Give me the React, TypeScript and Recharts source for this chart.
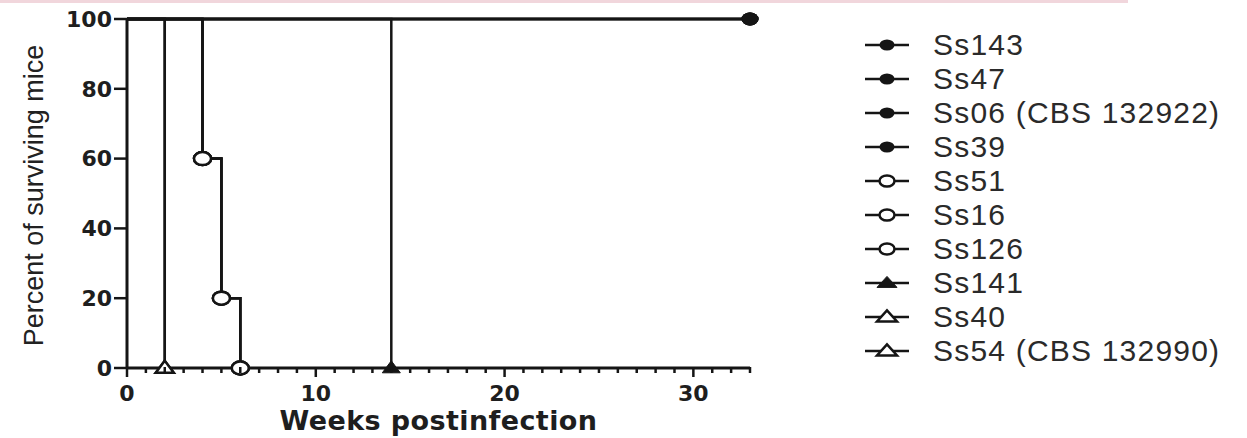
import React from "react";
import { LineChart, Line, XAxis, YAxis, Legend } from "recharts";

// ---- data ----
const seriesNames = [
  "Ss143",
  "Ss47",
  "Ss06 (CBS 132922)",
  "Ss39",
  "Ss51",
  "Ss16",
  "Ss126",
  "Ss141",
  "Ss40",
  "Ss54 (CBS 132990)",
];
const seriesMarkers = [
  "filledCircle",
  "filledCircle",
  "filledCircle",
  "filledCircle",
  "openCircle",
  "openCircle",
  "openCircle",
  "filledTriangle",
  "openTriangle",
  "openTriangle",
];
// survival curves (weeks postinfection -> percent surviving)
const survivorsWeeks = [0, 33];
const survivorsPct = [100, 100];
const stepwiseWeeks = [0, 4, 5, 6];
const stepwisePct = [100, 60, 20, 0];
const ss141Weeks = [0, 14];
const ss141Pct = [100, 0];
const earlyWeeks = [0, 2];
const earlyPct = [100, 0];
// which curve each series follows
const seriesCurve = [0, 0, 0, 0, 1, 1, 1, 2, 3, 3];
const curveWeeks = [survivorsWeeks, stepwiseWeeks, ss141Weeks, earlyWeeks];
const curvePct = [survivorsPct, stepwisePct, ss141Pct, earlyPct];

const xTicks = Array.from({ length: 34 }, (_, i) => i);
const xMajorTicks = [0, 10, 20, 30];
const yTicks = [0, 20, 40, 60, 80, 100];

const INK = "#151515";
const BOLD_FONT = "'DejaVu Sans', sans-serif";
const SANS = "'Liberation Sans', Arial, sans-serif";

function Marker({ kind, cx, cy, rx, ry, tw, th, sw }: any) {
  if (kind === "filledCircle")
    return <ellipse cx={cx} cy={cy} rx={rx} ry={ry} fill={INK} />;
  if (kind === "openCircle")
    return (
      <ellipse cx={cx} cy={cy} rx={rx} ry={ry} fill="#fff" stroke={INK} strokeWidth={sw} />
    );
  const pts = `${cx},${cy - th * 0.6} ${cx - tw / 2},${cy + th * 0.4} ${cx + tw / 2},${cy + th * 0.4}`;
  if (kind === "filledTriangle") return <polygon points={pts} fill={INK} stroke={INK} strokeWidth={1} />;
  return <polygon points={pts} fill="#fff" stroke={INK} strokeWidth={sw} strokeLinejoin="miter" />;
}

const makeDot = (kind: string) => (props: any) => {
  const { cx, cy, index } = props;
  const key = `dot-${kind}-${index}`;
  if (index === 0 || cx == null || cy == null) return <g key={key} />;
  return (
    <g key={key}>
      <Marker kind={kind} cx={cx} cy={cy} rx={8.5} ry={6.5} tw={18} th={12} sw={2.5} />
    </g>
  );
};

const XTick = (props: any) => {
  const { x, y, payload } = props;
  const major = xMajorTicks.includes(payload.value);
  return (
    <g>
      <line x1={x} y1={y - 1} x2={x} y2={y + (major ? 9 : 5)} stroke={INK} strokeWidth={2.5} />
      {major && (
        <text
          x={x}
          y={y + 33}
          textAnchor="middle"
          fontFamily={BOLD_FONT}
          fontWeight="bold"
          fontSize={22}
          fill="#1e1e1e"
        >
          {payload.value}
        </text>
      )}
    </g>
  );
};

const LegendContent = (props: any) => {
  const payload = [...(props.payload || [])].sort(
    (a: any, b: any) => seriesNames.indexOf(a.value) - seriesNames.indexOf(b.value)
  );
  return (
    <div>
      {payload.map((entry: any, i: number) => {
        const idx = seriesNames.indexOf(entry.value);
        const kind = seriesMarkers[idx >= 0 ? idx : i];
        return (
          <div
            key={`leg-${i}`}
            style={{ height: 34, display: "flex", alignItems: "center", whiteSpace: "nowrap" }}
          >
            <svg width={50} height={34} style={{ display: "block" }}>
              <line x1={3} y1={17} x2={47} y2={17} stroke={INK} strokeWidth={2.5} />
              <Marker kind={kind} cx={25} cy={17} rx={7.5} ry={5.5} tw={20} th={11} sw={2.5} />
            </svg>
            <span
              style={{
                marginLeft: 21,
                fontFamily: SANS,
                fontSize: 30,
                letterSpacing: 1.2,
                color: "#2a2a2a",
                lineHeight: "34px",
              }}
            >
              {entry.value}
            </span>
          </div>
        );
      })}
    </div>
  );
};

export default function App() {
  const series = seriesNames.map((name, i) => {
    const c = seriesCurve[i];
    const data = curveWeeks[c].map((w, j) => ({ week: w, pct: curvePct[c][j] }));
    return { name, kind: seriesMarkers[i], data };
  });

  return (
    <div
      style={{
        position: "absolute",
        left: 0,
        top: 0,
        width: 1247,
        height: 438,
        background: "#fff",
        overflow: "hidden",
      }}
    >
      <div
        style={{
          position: "absolute",
          left: 0,
          top: 0,
          width: 1128,
          height: 3,
          background: "#f1d6dc",
        }}
      />
      <LineChart
        width={1247}
        height={438}
        margin={{ top: 19, right: 497, bottom: 0, left: 0 }}
      >
        <XAxis
          dataKey="week"
          type="number"
          domain={[0, 33]}
          ticks={xTicks}
          interval={0}
          tickSize={0}
          tickMargin={0}
          tickLine={false}
          tick={<XTick />}
          height={70}
          axisLine={{ stroke: INK, strokeWidth: 3 }}
          allowDuplicatedCategory={false}
          label={{
            content: (p: any) => {
              const vb = p.viewBox || {};
              return (
                <text
                  x={vb.x + vb.width / 2}
                  y={vb.y + 62}
                  textAnchor="middle"
                  fontFamily={BOLD_FONT}
                  fontWeight="bold"
                  fontSize={27}
                  letterSpacing={0.4}
                  fill="#1e1e1e"
                >
                  Weeks postinfection
                </text>
              );
            },
          }}
        />
        <YAxis
          type="number"
          domain={[0, 100]}
          ticks={yTicks}
          interval={0}
          width={127}
          tickSize={13}
          tickMargin={2}
          tickLine={{ stroke: INK, strokeWidth: 2.5 }}
          axisLine={{ stroke: INK, strokeWidth: 3 }}
          tick={{
            fill: "#1e1e1e",
            fontSize: 22,
            fontFamily: BOLD_FONT,
            fontWeight: "bold",
          }}
          label={{
            content: (p: any) => {
              const vb = p.viewBox || {};
              const cy = vb.y + vb.height / 2 + 2;
              return (
                <text
                  x={43}
                  y={cy}
                  transform={`rotate(-90, 43, ${cy})`}
                  textAnchor="middle"
                  fontFamily={SANS}
                  fontSize={27}
                  fill="#222"
                >
                  Percent of surviving mice
                </text>
              );
            },
          }}
        />
        <Legend
          layout="vertical"
          align="center"
          verticalAlign="middle"
          content={<LegendContent />}
          wrapperStyle={{ left: 862, top: 28, width: 380, height: 345 }}
        />
        {series.map((s) => (
          <Line
            key={s.name}
            name={s.name}
            data={s.data}
            dataKey="pct"
            type="stepAfter"
            stroke={INK}
            strokeWidth={2.5}
            dot={makeDot(s.kind)}
            activeDot={false}
            isAnimationActive={false}
          />
        ))}
      </LineChart>
    </div>
  );
}
